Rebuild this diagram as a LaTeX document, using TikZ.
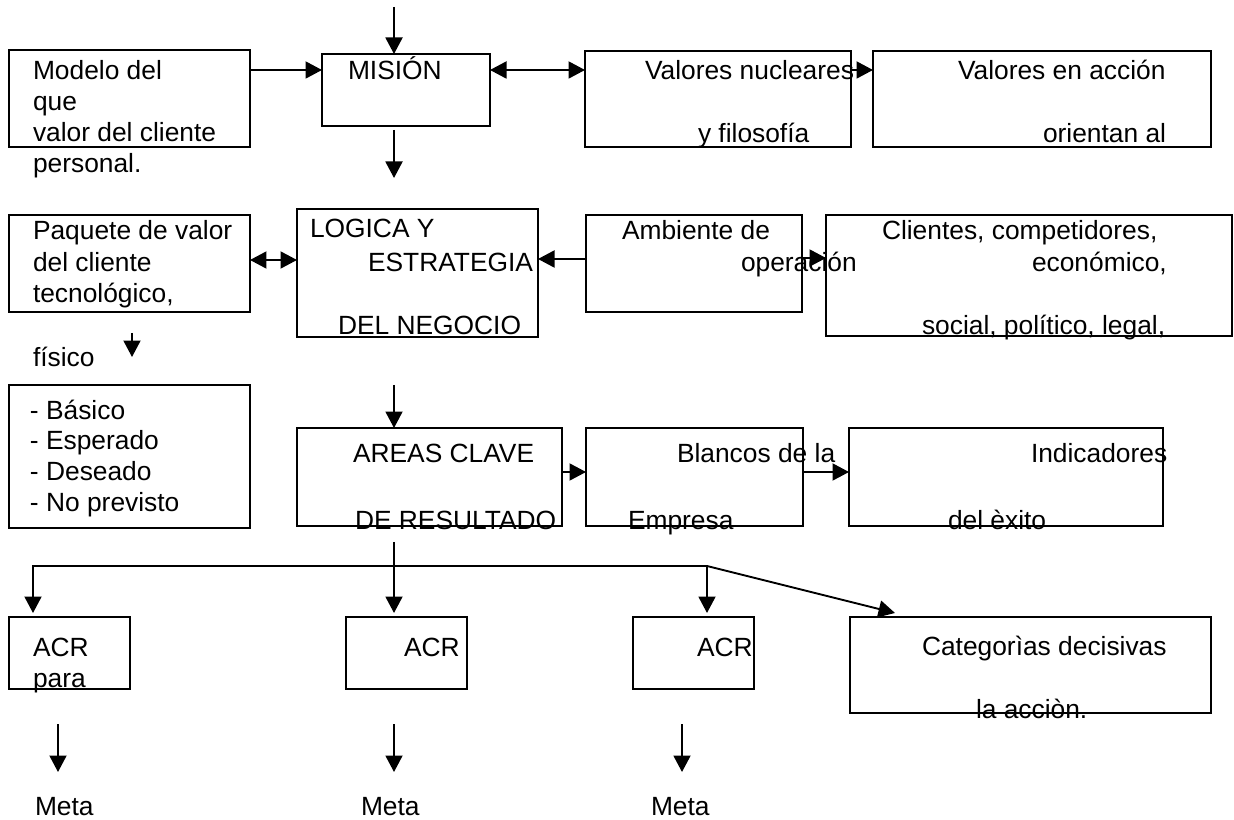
\documentclass[tikz,border=0pt]{standalone}
\usepackage{fontspec}
\setmainfont{Liberation Sans}
\usetikzlibrary{arrows.meta,calc}
\tikzset{
 boxst/.style={draw, line width=1.1pt, anchor=north west, inner sep=0pt, outer sep=0pt},
 txtst/.style={anchor=base west, inner sep=0pt, outer sep=0pt, font=\fontsize{15pt}{17.6pt}\selectfont},
 arr/.style={line width=1.1pt, -{Triangle[length=0.33cm,width=0.34cm]}},
 darr/.style={line width=1.1pt, {Triangle[length=0.33cm,width=0.34cm]}-{Triangle[length=0.33cm,width=0.34cm]}},
 ln/.style={line width=1.1pt},
}
\newcommand\mybox[5]{\node[boxst, minimum width={(#4-#2)*0.02cm}, minimum height={(#5-#3)*0.02cm}] (#1) at (#2,#3) {};}
\newcommand\mytxt[4]{\node[txtst] (#1) at (#2,#3) {#4};}
\begin{document}
\begin{tikzpicture}[x=0.02cm,y=-0.02cm]
\useasboundingbox (0,0) rectangle (1234,820);
% boxes
\mybox{b1}{9}{50}{250}{147}
\mybox{mis}{322}{54}{490}{126}
\mybox{vn}{585}{51}{851}{147}
\mybox{va}{873}{51}{1211}{147}
\mybox{paq}{9}{215}{250}{312}
\mybox{log}{297}{209}{538}{337}
\mybox{amb}{586}{215}{802}{312}
\mybox{cli}{826}{215}{1232}{336}
\mybox{lst}{9}{385}{250}{528}
\mybox{are}{297}{428}{562}{526}
\mybox{bla}{586}{428}{803}{526}
\mybox{ind}{849}{428}{1163}{526}
\mybox{acra}{9}{617}{130}{689}
\mybox{acrb}{346}{617}{467}{689}
\mybox{acrc}{633}{617}{754}{689}
\mybox{cat}{850}{617}{1211}{713}
% texts
\mytxt{t1a}{33}{80}{Modelo del}
\mytxt{t1b}{33}{111}{que}
\mytxt{t1c}{33}{142}{valor del cliente}
\mytxt{t1d}{33}{173}{personal.}
\mytxt{t2a}{348}{80}{MISIÓN}
\mytxt{t3a}{645}{80}{Valores nucleares}
\mytxt{t3b}{698}{143}{y filosofía}
\mytxt{t4a}{958}{80}{Valores en acción}
\mytxt{t4b}{1043}{143}{orientan al}
\mytxt{t5a}{33}{240}{Paquete de valor}
\mytxt{t5b}{33}{272}{del cliente}
\mytxt{t5c}{33}{303}{tecnológico,}
\mytxt{t5d}{33}{367}{físico}
\mytxt{t6a}{310}{238}{LOGICA Y}
\mytxt{t6b}{368}{272}{ESTRATEGIA}
\mytxt{t6c}{338}{335}{DEL NEGOCIO}
\mytxt{t7a}{622}{240}{Ambiente de}
\mytxt{t7b}{741}{272}{operación}
\mytxt{t8a}{882}{240}{Clientes, competidores,}
\mytxt{t8b}{1032}{272}{económico,}
\mytxt{t8c}{922}{335}{social, político, legal,}
\mytxt{t9a}{30}{420}{- Básico}
\mytxt{t9b}{30}{450}{- Esperado}
\mytxt{t9c}{30}{481}{- Deseado}
\mytxt{t9d}{30}{512}{- No previsto}
\mytxt{t10a}{353}{463}{AREAS CLAVE}
\mytxt{t10b}{355}{530}{DE RESULTADO}
\mytxt{t11a}{677}{463}{Blancos de la}
\mytxt{t11b}{628}{530}{Empresa}
\mytxt{t12a}{1031}{463}{Indicadores}
\mytxt{t12b}{948}{530}{del èxito}
\mytxt{t13a}{33}{656}{ACR}
\mytxt{t13b}{33}{687}{para}
\mytxt{t14a}{404}{656}{ACR}
\mytxt{t15a}{697}{656}{ACR}
\mytxt{t16a}{922}{655}{Categorìas decisivas}
\mytxt{t16b}{976}{718}{la acciòn.}
\mytxt{m1}{35}{815}{Meta}
\mytxt{m2}{361}{815}{Meta}
\mytxt{m3}{651}{815}{Meta}
% connectors
\coordinate (c0) at (394,7);
\draw[arr] (c0) -- (c0 |- mis.north);
\draw[arr] ($(b1.north east)+(0,20)$) -- ($(mis.north west)+(0,16)$);
\coordinate (c1) at (394,130); \coordinate (c2) at (394,178);
\draw[arr] (c1) -- (c2);
\draw[darr] ($(mis.north east)+(0,16)$) -- ($(vn.north west)+(0,19)$);
\draw[arr] ($(vn.north east)+(0,19)$) -- ($(va.north west)+(0,19)$);
\draw[darr] ($(paq.north east)+(0,45)$) -- ($(log.north west)+(0,51)$);
\draw[arr] ($(amb.north west)+(0,44)$) -- ($(log.north east)+(0,50)$);
\draw[arr] ($(amb.north east)+(0,43)$) -- ($(cli.north west)+(0,43)$);
\coordinate (c3) at (132,333); \coordinate (c4) at (132,357);
\draw[arr] (c3) -- (c4);
\coordinate (c5) at (394,385);
\draw[arr] (c5) -- (c5 |- are.north);
\draw[arr] ($(are.north east)+(0,44)$) -- ($(bla.north west)+(0,44)$);
\draw[arr] ($(bla.north east)+(0,44)$) -- ($(ind.north west)+(0,44)$);
\coordinate (hl) at (33,566); \coordinate (hr) at (707,566); \coordinate (c6) at (394,542);
\draw[arr, shorten >=0.08cm] (hr) -- (hl) -- (hl |- acra.north);
\draw[arr, shorten >=0.08cm] (c6) -- (c6 |- acrb.north);
\draw[arr, shorten >=0.08cm] (hr) -- (hr |- acrc.north);
\draw[arr] (hr) -- ($(cat.north west)+(45,-4)$);
\coordinate (d1) at (58,724); \coordinate (e1) at (58,772);
\coordinate (d2) at (394,724); \coordinate (e2) at (394,772);
\coordinate (d3) at (682,724); \coordinate (e3) at (682,772);
\draw[arr] (d1) -- (e1);
\draw[arr] (d2) -- (e2);
\draw[arr] (d3) -- (e3);
\end{tikzpicture}
\end{document}
